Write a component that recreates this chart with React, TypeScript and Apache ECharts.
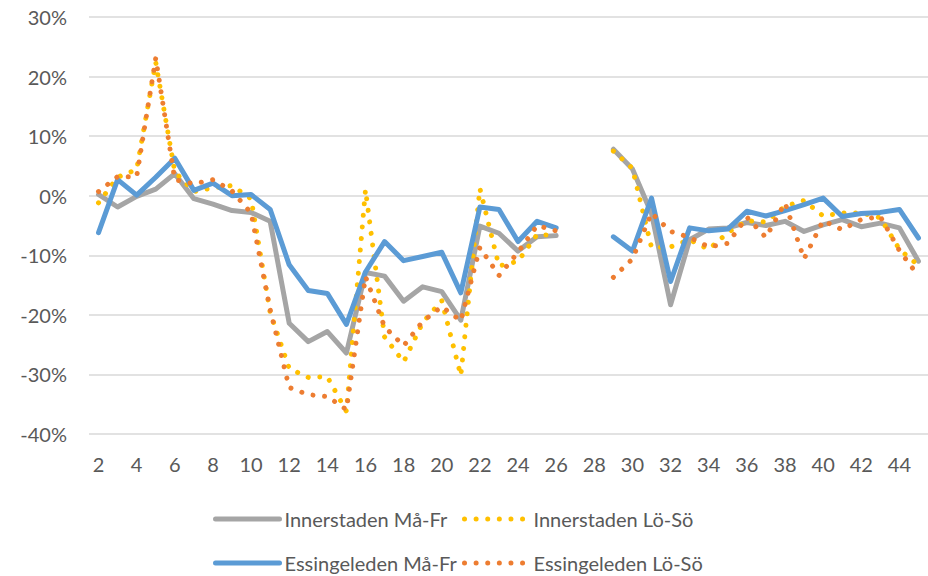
import React, { useEffect, useRef } from 'react';
import * as echarts from 'echarts';

const weeks = ['2', '3', '4', '5', '6', '7', '8', '9', '10', '11', '12', '13', '14', '15', '16', '17', '18', '19', '20', '21', '22', '23', '24', '25', '26', '27', '28', '29', '30', '31', '32', '33', '34', '35', '36', '37', '38', '39', '40', '41', '42', '43', '44', '45'];

const innerstadenMaFr = [0.2, -1.9, -0.1, 1.1, 3.7, -0.5, -1.4, -2.5, -2.8, -4.3, -21.4, -24.5, -22.8, -26.4, -12.9, -13.5, -17.7, -15.3, -16.1, -20.9, -5.1, -6.3, -9.3, -6.9, -6.7, null, null, 7.8, 4.5, -3.0, -18.3, -7.4, -5.6, -5.4, -4.5, -5.0, -4.3, -6.0, -4.9, -4.0, -5.2, -4.6, -5.4, -11.0];

const innerstadenLoSo = [-1.2, 3.1, 4.4, 22.4, 4.0, 0.7, 1.3, 1.7, -0.5, -19.6, -29.0, -30.5, -30.4, -36.2, 1.0, -23.7, -27.9, -21.3, -17.6, -30.2, 1.2, -11.8, -11.0, -6.5, -6.7, null, null, 7.5, 4.6, -8.7, -8.6, -7.4, -9.0, -6.2, -4.2, -4.4, -1.8, -0.8, -3.4, -2.9, -2.9, -3.7, -9.0, -11.7];

const essingeledenMaFr = [-6.2, 2.7, 0.1, 3.1, 6.3, 0.9, 2.1, 0.0, 0.2, -2.3, -11.6, -15.9, -16.4, -21.6, -12.8, -7.7, -10.9, -10.2, -9.5, -16.3, -1.9, -2.3, -7.7, -4.3, -5.4, null, null, -6.9, -9.3, -0.4, -14.4, -5.4, -5.9, -5.6, -2.6, -3.4, -2.5, -1.5, -0.4, -3.5, -3.0, -2.8, -2.3, -7.1];

const essingeledenLoSo = [0.7, 3.2, 3.2, 23.1, 2.7, 2.0, 2.7, 0.8, -2.9, -19.1, -32.2, -33.4, -33.7, -35.9, -13.6, -22.0, -25.2, -21.1, -18.6, -21.0, -8.7, -13.4, -9.5, -5.0, -5.9, null, null, -13.7, -10.6, -2.9, -6.0, -7.0, -8.6, -8.0, -3.6, -7.0, -1.2, -10.6, -4.2, -5.7, -4.0, -3.5, -9.2, -13.5];

const seriesNames = ['Innerstaden Må-Fr', 'Innerstaden Lö-Sö', 'Essingeleden Må-Fr', 'Essingeleden Lö-Sö'];

export default function App() {
  const ref = useRef<HTMLDivElement>(null);
  useEffect(() => {
    if (!ref.current) return;
    const chart = echarts.init(ref.current, null, { renderer: 'svg' });
    const font = 'Lato, "Open Sans", sans-serif';
    const textColor = '#595959';
    const mk = (name: string, data: (number | null)[], color: string, dotted: boolean) => ({
      name,
      type: 'line',
      data,
      symbol: 'none',
      connectNulls: false,
      lineStyle: dotted
        ? { color, width: 5, type: [0.01, 11.6], cap: 'round' }
        : { color, width: 5, cap: 'round', join: 'round' },
      itemStyle: { color },
    });
    const legendCommon = {
      orient: 'vertical',
      top: 509,
      padding: 0,
      itemWidth: 64,
      itemHeight: 20,
      itemGap: 24,
      itemStyle: { opacity: 0 },
      lineStyle: { width: 5, cap: 'round' },
      textStyle: { color: textColor, fontSize: 20, fontFamily: font, lineHeight: 20 },
      selectedMode: false,
    };
    chart.setOption({
      animation: false,
      backgroundColor: '#ffffff',
      grid: { left: 89, top: 17, width: 843.5, height: 417, containLabel: false },
      xAxis: {
        type: 'category',
        data: weeks,
        boundaryGap: true,
        axisLine: { show: false },
        axisTick: { show: false },
        splitLine: { show: false },
        axisLabel: { interval: 1, color: textColor, fontSize: 20, fontFamily: font, margin: 20 },
      },
      yAxis: {
        type: 'value',
        min: -40,
        max: 30,
        interval: 10,
        axisLine: { show: false },
        axisTick: { show: false },
        splitLine: { lineStyle: { color: '#d9d9d9', width: 1.5 } },
        axisLabel: { formatter: '{value}%', color: textColor, fontSize: 20, fontFamily: font, margin: 22 },
      },
      legend: [
        { ...legendCommon, left: 213, data: [seriesNames[0], seriesNames[2]] },
        { ...legendCommon, left: 462, data: [seriesNames[1], seriesNames[3]] },
      ],
      series: [
        mk(seriesNames[0], innerstadenMaFr, '#A5A5A5', false),
        mk(seriesNames[1], innerstadenLoSo, '#FFC000', true),
        mk(seriesNames[2], essingeledenMaFr, '#5B9BD5', false),
        mk(seriesNames[3], essingeledenLoSo, '#ED7D31', true),
      ],
    });
    return () => chart.dispose();
  }, []);
  return (
    <div
      ref={ref}
      style={{ position: 'fixed', left: 0, top: 0, width: 928, height: 576, background: '#fff' }}
    />
  );
}
